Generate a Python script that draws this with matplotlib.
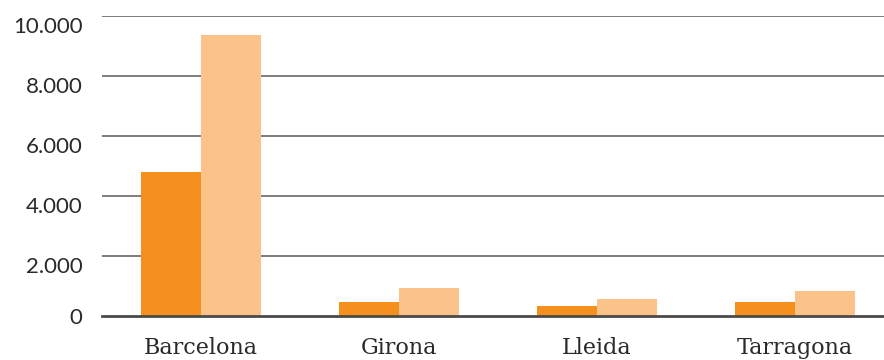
import numpy as np
import matplotlib.pyplot as plt
from matplotlib.ticker import FuncFormatter
from matplotlib.transforms import ScaledTranslation

# province totals, two series
provinces = ["Barcelona", "Girona", "Lleida", "Tarragona"]
series_a = [4790, 457, 323, 457]
series_b = [9360, 923, 557, 823]

yticks = [0, 2000, 4000, 6000, 8000, 10000]

dark = "#f5901f"
light = "#fbc389"
text_color = "#2b2a29"

fig = plt.figure(figsize=(8.84, 3.6), dpi=100)
ax = fig.add_axes([102 / 884, 44 / 360, 792 / 884, 300 / 360])

x = np.arange(len(provinces))
w = 0.303
ax.bar(x - w / 2, series_a, width=w, color=dark, zorder=3)
ax.bar(x + w / 2, series_b, width=w, color=light, zorder=3)

ax.set_xlim(-0.5, 3.5)
ax.set_ylim(0, 10000)
ax.set_yticks(yticks)
ax.yaxis.set_major_formatter(
    FuncFormatter(lambda v, p: f"{int(v):,}".replace(",", ".")))
ax.set_xticks(x)
ax.set_xticklabels(provinces)

for v in yticks[1:]:
    ax.axhline(v, color="#5a5a5a", lw=1.1, zorder=1)
ax.axhline(0, color="#4a4a4a", lw=2, zorder=4, clip_on=False)

for s in ax.spines.values():
    s.set_visible(False)
ax.tick_params(axis="both", length=0, colors=text_color)
ax.tick_params(axis="y", pad=14)
ax.tick_params(axis="x", pad=15)

for lab in ax.get_yticklabels():
    lab.set_fontfamily("Lato")
    lab.set_fontsize(16)
# labels sit just under their gridline, except the zero
shift = ScaledTranslation(0, -9 / 100, fig.dpi_scale_trans)
for lab in ax.get_yticklabels()[1:]:
    lab.set_transform(lab.get_transform() + shift)

for lab in ax.get_xticklabels():
    lab.set_fontfamily("DejaVu Serif")
    lab.set_fontsize(16)

fig.savefig("out.png", dpi=100)
